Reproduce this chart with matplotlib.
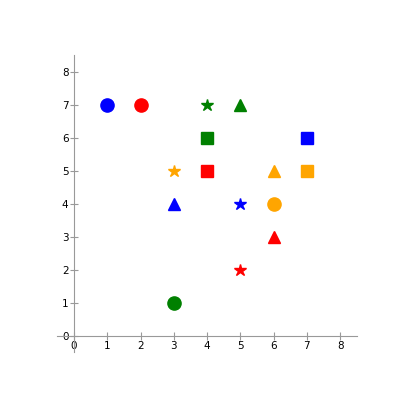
import matplotlib
matplotlib.use('Agg')
import matplotlib.pyplot as plt

colors = ['blue', 'red', 'green', 'orange']

circle_x = [1, 2, 3, 6]
circle_y = [7, 7, 1, 4]
star_x = [5, 5, 4, 3]
star_y = [4, 2, 7, 5]
tri_x = [3, 6, 5, 6]
tri_y = [4, 3, 7, 5]
square_x = [7, 4, 4, 7]
square_y = [6, 5, 6, 5]

ticks = list(range(9))

fig = plt.figure(figsize=(4.04, 4.05), dpi=100)
ax = fig.add_axes([0.142, 0.13, 0.741, 0.733])

for i, c in enumerate(colors):
    ax.plot(circle_x[i], circle_y[i], 'o', color=c, markersize=9.5)
    ax.plot(star_x[i], star_y[i], '*', color=c, markersize=9)
    ax.plot(tri_x[i], tri_y[i], '^', color=c, markersize=9)
    ax.plot(square_x[i], square_y[i], 's', color=c, markersize=8.5)

ax.set_xlim(-0.5, 8.5)
ax.set_ylim(-0.5, 8.5)
ax.spines['left'].set_position(('data', 0))
ax.spines['bottom'].set_position(('data', 0))
ax.spines['right'].set_visible(False)
ax.spines['top'].set_visible(False)
for s in ('left', 'bottom'):
    ax.spines[s].set_color('#999999')
ax.set_xticks(ticks)
ax.set_yticks(ticks)
ax.tick_params(direction='inout', length=6, color='#999999', labelsize=7.5, pad=1)

fig.savefig('out.png', dpi=100)
